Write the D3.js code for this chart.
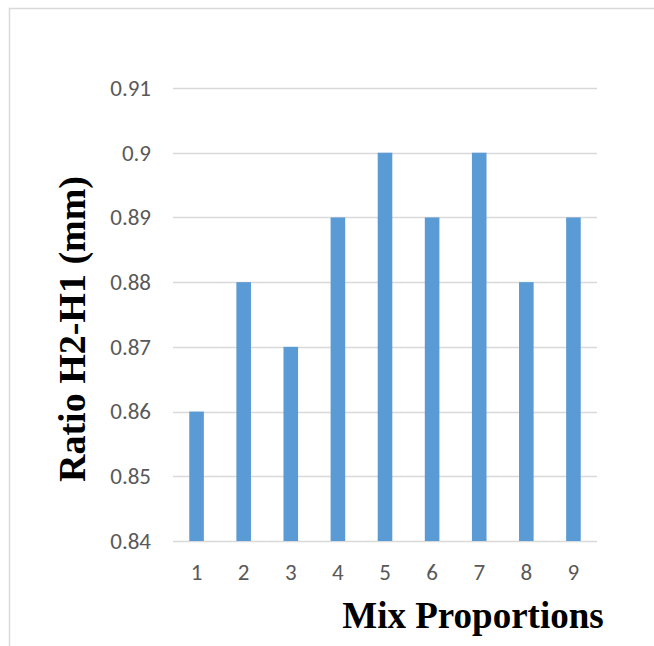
<!DOCTYPE html>
<html>
<head>
<meta charset="utf-8">
<script src="https://cdn.jsdelivr.net/npm/d3@7"></script>
<style>
  body { margin: 0; background: #fff; }
  svg { display: block; }
</style>
</head>
<body>
<svg id="chart"></svg>
<script>
var mixes = ["1", "2", "3", "4", "5", "6", "7", "8", "9"];
var ratios = [0.86, 0.88, 0.87, 0.89, 0.90, 0.89, 0.90, 0.88, 0.89];
var yTicks = [0.84, 0.85, 0.86, 0.87, 0.88, 0.89, 0.90, 0.91];

var width = 654, height = 646;
var svg = d3.select("#chart").attr("width", width).attr("height", height);

// outer chart border (runs off the right and bottom edges)
svg.append("rect")
  .attr("x", 9.5).attr("y", 8.5)
  .attr("width", 700).attr("height", 700)
  .attr("fill", "none")
  .attr("stroke", "#d9d9d9")
  .attr("stroke-width", 1.5);

var plotLeft = 173, plotRight = 597, plotTop = 88, plotBottom = 541;

var x = d3.scaleBand().domain(mixes).range([plotLeft, plotRight]).paddingInner(0.69).paddingOuter(0.345);
var y = d3.scaleLinear().domain([0.84, 0.91]).range([plotBottom, plotTop]);

// gridlines
svg.append("g")
  .selectAll("line")
  .data(yTicks)
  .enter().append("line")
  .attr("x1", plotLeft).attr("x2", plotRight)
  .attr("y1", function(d) { return Math.round(y(d)) + 0.5; })
  .attr("y2", function(d) { return Math.round(y(d)) + 0.5; })
  .attr("stroke", "#d9d9d9")
  .attr("stroke-width", 1.3);

// bars
svg.append("g")
  .selectAll("rect")
  .data(ratios)
  .enter().append("rect")
  .attr("x", function(d, i) { return x(mixes[i]); })
  .attr("y", function(d) { return y(d); })
  .attr("width", x.bandwidth())
  .attr("height", function(d) { return y(0.84) - y(d); })
  .attr("fill", "#5b9bd5");

var tickFont = "Calibri, Carlito, 'Open Sans', sans-serif";

// y axis labels
var yAxis = d3.axisLeft(y).tickValues(yTicks).tickSize(0).tickPadding(22)
  .tickFormat(function(d) { return d3.format(".2~f")(d); });
var gy = svg.append("g").attr("transform", "translate(" + plotLeft + ",0)").call(yAxis);
gy.select(".domain").remove();
gy.selectAll("text")
  .attr("fill", "#595959")
  .style("font-family", tickFont)
  .style("font-size", "23px");

// x axis labels
var xAxis = d3.axisBottom(x).tickSize(0).tickPadding(23);
var gx = svg.append("g").attr("transform", "translate(0," + plotBottom + ")").call(xAxis);
gx.select(".domain").remove();
gx.selectAll("text")
  .attr("fill", "#595959")
  .style("font-family", tickFont)
  .style("font-size", "23px");

// axis titles
svg.append("text")
  .attr("transform", "translate(85,329) rotate(-90)")
  .attr("text-anchor", "middle")
  .style("font-family", "'Times New Roman', 'Liberation Serif', serif")
  .style("font-weight", "bold")
  .style("font-size", "38px")
  .attr("fill", "#000")
  .text("Ratio H2-H1 (mm)");

svg.append("text")
  .attr("x", 473).attr("y", 628)
  .attr("text-anchor", "middle")
  .style("font-family", "'Times New Roman', 'Liberation Serif', serif")
  .style("font-weight", "bold")
  .style("font-size", "37px")
  .attr("fill", "#000")
  .text("Mix Proportions");
</script>
</body>
</html>
